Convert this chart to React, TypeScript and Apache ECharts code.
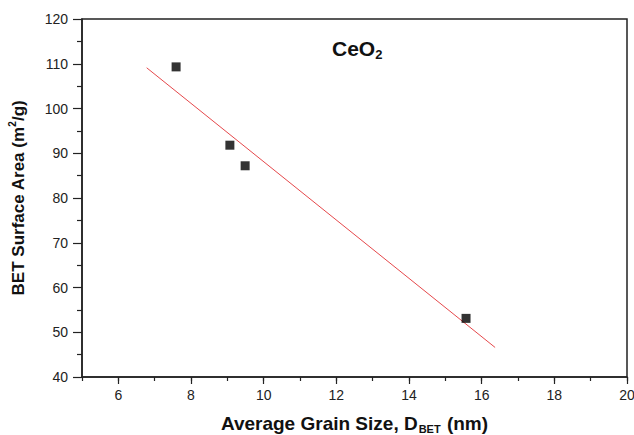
import React, { useEffect, useRef } from "react";
import * as echarts from "echarts";

const grainSize = [7.59, 9.07, 9.49, 15.57];
const surfaceArea = [109.3, 91.8, 87.2, 53.1];
const fitX = [6.78, 16.37];
const fitY = [109.1, 46.6];
const xMajorTicks = [6, 8, 10, 12, 14, 16, 18, 20];

export default function App() {
  const ref = useRef<HTMLDivElement>(null);
  useEffect(() => {
    document.body.style.margin = "0";
    const chart = echarts.init(ref.current!, null, { renderer: "svg" });
    const font = "Liberation Sans, Arial, sans-serif";
    const plotHeight = 435 - 19 - 58;
    chart.setOption({
      animation: false,
      backgroundColor: "#ffffff",
      textStyle: { fontFamily: font },
      title: {
        text: "{a|CeO}{s|2}",
        left: 327,
        top: 30,
        textStyle: {
          rich: {
            a: { fontSize: 21, fontWeight: "bold", color: "#111", fontFamily: font, lineHeight: 26 },
            s: { fontSize: 13, fontWeight: "bold", color: "#111", fontFamily: font, lineHeight: 2, verticalAlign: "bottom" },
          },
        },
      },
      grid: {
        left: 82,
        right: 7,
        top: 19,
        bottom: 58,
        show: true,
        borderColor: "#222",
        borderWidth: 1.5,
        containLabel: false,
        outerBoundsMode: "none",
      },
      xAxis: [
        {
          type: "value",
          position: "bottom",
          min: 5,
          max: 20,
          interval: 1,
          name: "{a|Average Grain Size, D}{s|BET}{a| (nm)}",
          nameLocation: "middle",
          nameGap: 35,
          nameTextStyle: {
            rich: {
              a: { fontSize: 19, fontWeight: "bold", color: "#111", fontFamily: font, lineHeight: 22 },
              s: { fontSize: 11, fontWeight: "bold", color: "#111", fontFamily: font, lineHeight: 6, verticalAlign: "bottom", padding: [0, 1, 0, 1] },
            },
          },
          axisLine: { show: true, lineStyle: { color: "#222", width: 1.5 } },
          axisTick: {
            show: true,
            inside: false,
            length: 4,
            interval: 0,
            lineStyle: { color: "#222", width: 1.2 },
          },
          axisLabel: {
            margin: 11,
            fontSize: 14,
            color: "#222",
            fontFamily: font,
            formatter: (v: number) => (v % 2 === 0 ? String(v) : ""),
          },
          splitLine: { show: false },
        },
        {
          type: "value",
          position: "top",
          offset: -plotHeight,
          min: 5,
          max: 20,
          interval: 1,
          axisLine: { show: false },
          axisTick: {
            show: true,
            inside: true,
            length: 7,
            customValues: xMajorTicks,
            lineStyle: { color: "#222", width: 1.2 },
          },
          axisLabel: { show: false },
          splitLine: { show: false },
        },
      ],
      yAxis: {
        type: "value",
        min: 40,
        max: 120,
        interval: 10,
        name: "{a|BET Surface Area (m}{s|2}{a|/g)}",
        nameLocation: "middle",
        nameGap: 53,
        nameTextStyle: {
          rich: {
            a: { fontSize: 17, fontWeight: "bold", color: "#111", fontFamily: font, lineHeight: 22 },
            s: { fontSize: 10, fontWeight: "bold", color: "#111", fontFamily: font, lineHeight: 10, verticalAlign: "top" },
          },
        },
        axisLine: { show: true, lineStyle: { color: "#222", width: 1.5 } },
        axisTick: {
          show: true,
          inside: false,
          length: 9,
          lineStyle: { color: "#222", width: 1.2 },
        },
        minorTick: {
          show: true,
          splitNumber: 2,
          length: 5,
          lineStyle: { color: "#222", width: 1.2 },
        },
        axisLabel: {
          margin: 14,
          fontSize: 14,
          color: "#222",
          fontFamily: font,
        },
        splitLine: { show: false },
        minorSplitLine: { show: false },
      },
      series: [
        {
          type: "line",
          data: fitX.map((x, i) => [x, fitY[i]]),
          symbol: "none",
          lineStyle: { color: "#e5484b", width: 1 },
          z: 2,
        },
        {
          type: "scatter",
          data: grainSize.map((x, i) => [x, surfaceArea[i]]),
          symbol: "rect",
          symbolSize: 9,
          itemStyle: { color: "#000" },
          z: 3,
        },
      ],
    });
    return () => chart.dispose();
  }, []);
  return <div ref={ref} style={{ width: 634, height: 435 }} />;
}
